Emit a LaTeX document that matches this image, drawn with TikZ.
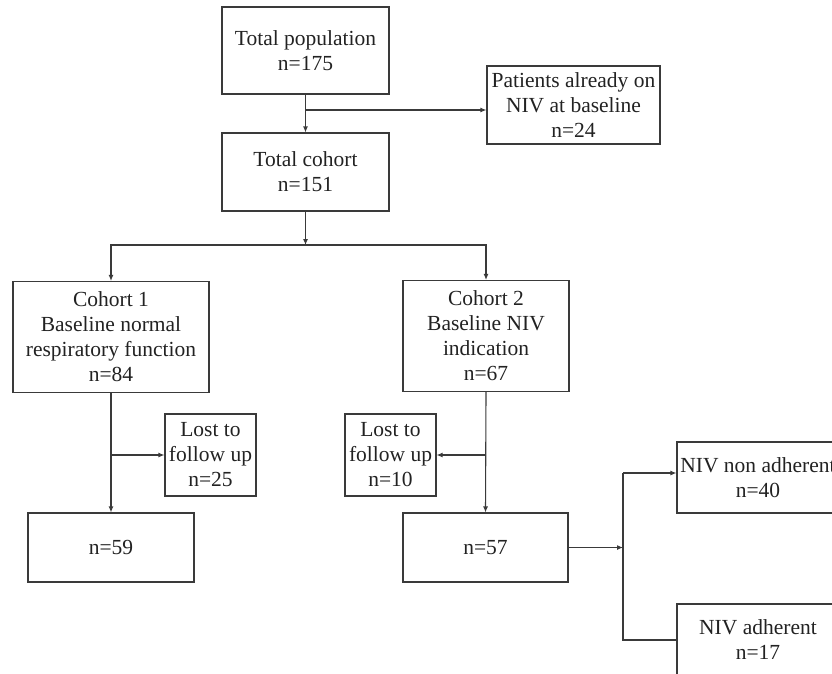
\documentclass[tikz,border=0pt]{standalone}
\usepackage{fontspec}
\setmainfont{Liberation Serif}
\usetikzlibrary{arrows.meta}
\definecolor{linec}{HTML}{3A3A3A}
\definecolor{textc}{HTML}{222222}
\tikzset{
  box/.style={draw=linec, line width=1.1pt, rectangle, inner sep=0pt, align=center,
    text=textc, font=\fontsize{21.5}{25}\selectfont},
  arr/.style={draw=linec, line width=1.1pt, -{Latex[length=6pt,width=5pt]}},
  ln/.style={draw=linec, line width=1.1pt}
}
\begin{document}
\begin{tikzpicture}[x=1pt,y=-1pt]
\useasboundingbox (0,0) rectangle (832,673);
\clip (0,0) rectangle (832,673);
\node[box, minimum width=167pt, minimum height=87pt] (pop) at (305.5,50.5) {Total population\\n=175};
\node[box, minimum width=167pt, minimum height=78pt] (cohort) at (305.5,172) {Total cohort\\n=151};
\node[box, minimum width=173pt, minimum height=78pt] (pat) at (573.5,105) {Patients already on\\NIV at baseline\\n=24};
\node[box, minimum width=196pt, minimum height=111pt] (c1) at (111,337) {Cohort 1\\Baseline normal\\respiratory function\\n=84};
\node[box, minimum width=166pt, minimum height=111pt] (c2) at (486,336) {Cohort 2\\Baseline NIV\\indication\\n=67};
\node[box, minimum width=91pt, minimum height=82pt] (lost1) at (210.5,455) {Lost to\\follow up\\n=25};
\node[box, minimum width=91pt, minimum height=82pt] (lost2) at (390.5,455) {Lost to\\follow up\\n=10};
\node[box, minimum width=166pt, minimum height=69pt] (n59) at (111,547.5) {n=59};
\node[box, minimum width=165pt, minimum height=69pt] (n57) at (485.5,547.5) {n=57};
\node[box, minimum width=162pt, minimum height=71pt] (nonadh) at (758,477.5) {NIV non adherent\\n=40};
\node[box, minimum width=162pt, minimum height=71pt] (adh) at (758,639.5) {NIV adherent\\n=17};

\coordinate (b1) at (305.5,110);
\draw[arr] (pop.south) -- (cohort.north);
\draw[arr] (b1) -- (b1 -| pat.west);

\coordinate (b2) at (305.5,245);
\draw[arr] (cohort.south) -- (b2);
\draw[arr] (b2) -| (c1.north);
\draw[arr] (b2) -| (c2.north);

\draw[arr] (c1.south) -- (n59.north);
\draw[arr] (c1.south |- lost1.west) -- (lost1.west);
\draw[arr] (c2.south) -- (n57.north);
\draw[arr] (c2.south |- lost2.east) -- (lost2.east);

\coordinate (t1) at (623,473);
\coordinate (t2) at (623,640);
\draw[arr] (n57.east) -- (n57.east -| t1);
\draw[ln] (t2 -| adh.west) -- (t2) -- (t1);
\draw[arr] (t1) -- (t1 -| nonadh.west);
\end{tikzpicture}
\end{document}
